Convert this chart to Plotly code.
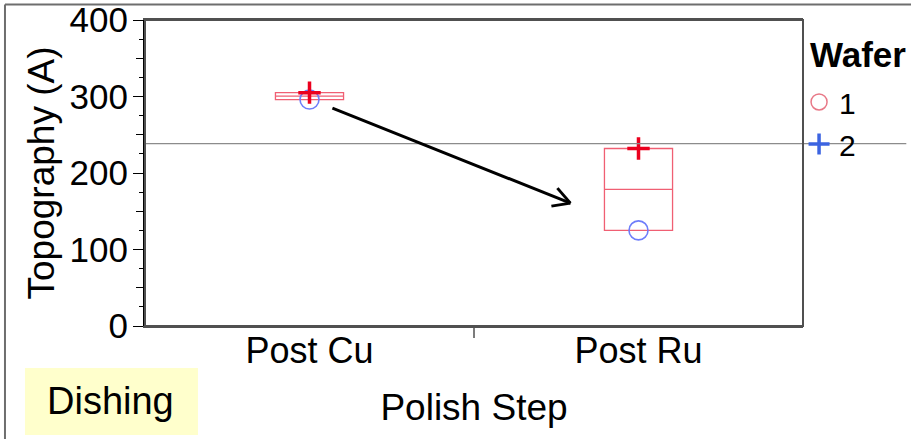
import numpy as np
import plotly.graph_objects as go

# ---- data ----
steps = ["Post Cu", "Post Ru"]
wafer1 = [296, 125]   # circles
wafer2 = [305, 232]   # plus
ref_value = 238.5
y_ticks = [0, 100, 200, 300, 400]

FONT = "Liberation Sans, Arial, sans-serif"

vals = np.array([wafer1, wafer2])
lo = vals.min(axis=0)
hi = vals.max(axis=0)
mid = vals.mean(axis=0)

fig = go.Figure()

box_col = "rgb(240,95,115)"
fig.add_trace(go.Box(
    x=steps, q1=lo, median=mid, q3=hi, lowerfence=lo, upperfence=hi,
    width=0.207, line=dict(color=box_col, width=1.3),
    fillcolor="rgba(0,0,0,0)", showlegend=False, hoverinfo="skip",
    boxpoints=False,
))

fig.add_trace(go.Scatter(
    x=steps, y=wafer1, mode="markers", showlegend=False,
    marker=dict(symbol="circle-open", size=19, color="rgb(110,125,250)",
                line=dict(width=1.6, color="rgb(110,125,250)")),
))
fig.add_trace(go.Scatter(
    x=steps, y=wafer2, mode="markers", showlegend=False,
    marker=dict(symbol="cross-thin-open", size=16, color="rgb(235,0,30)",
                line=dict(width=3.5, color="rgb(235,0,30)")),
))

# legend-only traces (legend colours as in the reference)
fig.add_trace(go.Scatter(
    x=[None], y=[None], mode="markers", name="1",
    marker=dict(symbol="circle-open", size=16, color="rgb(232,120,135)",
                line=dict(width=1.5, color="rgb(232,120,135)")),
))
fig.add_trace(go.Scatter(
    x=[None], y=[None], mode="markers", name="2",
    marker=dict(symbol="cross-thin-open", size=15, color="rgb(60,100,225)",
                line=dict(width=3.5, color="rgb(60,100,225)")),
))

# secondary overlay axis for the medium 50-level ticks
fig.add_trace(go.Scatter(x=[None], y=[None], yaxis="y2", showlegend=False))

shapes = []
# reference line
shapes.append(dict(type="line", xref="paper", yref="y", x0=0, x1=1.157,
                   y0=ref_value, y1=ref_value,
                   line=dict(color="rgb(140,140,140)", width=1.2)))
# outer frame (top and left)
shapes.append(dict(type="line", xref="paper", yref="paper", x0=-0.2128, x1=1.2,
                   y0=1.0507, y1=1.0507, line=dict(color="rgb(110,110,110)", width=2)))
shapes.append(dict(type="line", xref="paper", yref="paper", x0=-0.2128, x1=-0.2128,
                   y0=1.0507, y1=-0.4, line=dict(color="rgb(110,110,110)", width=2)))
# Dishing box
shapes.append(dict(type="rect", xref="paper", yref="paper", x0=-0.1824, x1=0.0805,
                   y0=-0.3562, y1=-0.1373, fillcolor="rgb(255,255,204)",
                   line=dict(width=0), layer="below"))
# middle x tick between categories
shapes.append(dict(type="line", xref="paper", yref="paper", ysizemode="pixel",
                   yanchor=0, x0=0.5, x1=0.5, y0=0, y1=-12,
                   line=dict(color="rgb(80,80,80)", width=1.5)))
# arrow (anchored at tip, pixel offsets)
tip_x, tip_y = 0.793, 160.6
for (dx, dy) in [(-238, 95), (-13, 15), (-19, -3)]:
    shapes.append(dict(type="line", xref="x", yref="y",
                       xsizemode="pixel", ysizemode="pixel",
                       xanchor=tip_x, yanchor=tip_y,
                       x0=0, y0=0, x1=dx, y1=dy,
                       line=dict(color="black", width=3)))

fig.update_layout(
    width=911, height=439,
    margin=dict(l=145, r=108, t=20, b=113, autoexpand=False),
    paper_bgcolor="white", plot_bgcolor="white",
    font=dict(family=FONT, color="black", size=36),
    shapes=shapes,
    showlegend=True,
    legend=dict(
        x=0.994, y=0.817, xanchor="left", yanchor="top",
        font=dict(size=30, family=FONT), bgcolor="rgba(0,0,0,0)",
        itemwidth=30, tracegroupgap=0,
    ),
    xaxis=dict(
        type="category", range=[-0.5, 1.5], automargin=False,
        ticks="", showline=True, linecolor="rgb(80,80,80)", linewidth=2,
        mirror=True, showgrid=False, tickfont=dict(size=36),
        ticklabelstandoff=-8,
        title=dict(text="Polish Step", font=dict(size=37), standoff=24),
    ),
    yaxis=dict(
        range=[0, 400], tickvals=y_ticks, ticks="outside", ticklen=10,
        tickcolor="black", showline=True, linecolor="black", linewidth=2,
        mirror=False, showgrid=False, zeroline=False, tickfont=dict(size=35),
        automargin=False, ticklabeloverflow="allow", ticklabelstandoff=-2,
        minor=dict(dtick=25, ticks="outside", ticklen=4, tickcolor="black"),
        title=dict(text="Topography (A)", font=dict(size=37), standoff=4),
    ),
    yaxis2=dict(
        overlaying="y", side="left", range=[0, 400], automargin=False,
        tickvals=[50, 150, 250, 350], ticks="outside", ticklen=8,
        tickcolor="black", showticklabels=False, showgrid=False,
        zeroline=False, showline=False,
    ),
    annotations=[
        dict(text="Dishing", xref="paper", yref="paper", x=-0.0517, y=-0.2467,
             showarrow=False, font=dict(size=38, family=FONT, color="black"),
             xanchor="center", yanchor="middle"),
        dict(text="<b>Wafer</b>", xref="paper", yref="paper", x=1.0076, y=0.886,
             showarrow=False, font=dict(size=35, family=FONT, color="black"),
             xanchor="left", yanchor="middle"),
    ],
)

fig.add_shape(type="rect", xref="paper", yref="paper", x0=0, x1=1, y0=0, y1=1,
              line=dict(color="rgb(80,80,80)", width=2))

fig.write_html("out.html")
